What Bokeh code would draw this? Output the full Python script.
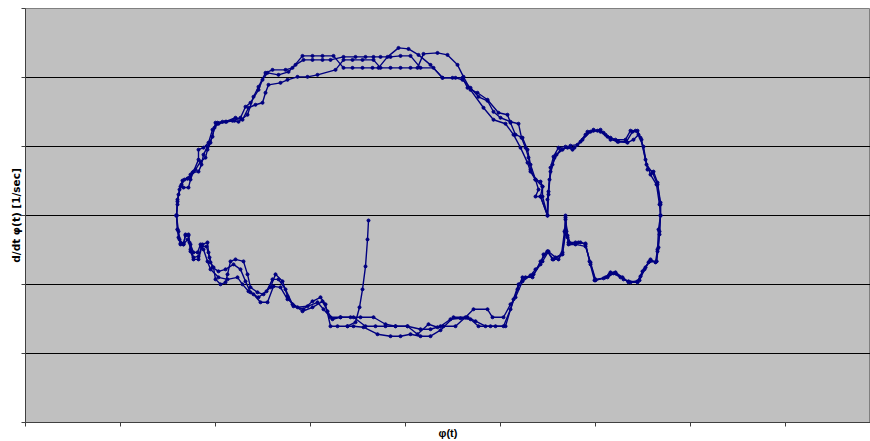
from bokeh.plotting import figure
from bokeh.models import Range1d, FixedTicker, CustomJSTickFormatter
from bokeh.embed import file_html
from bokeh.resources import INLINE

# Phase portrait: phi(t) vs d/dt phi(t), three laps plus the starting segment
tail_phi = [343, 342, 340, 337, 334, 330, 322]
tail_dphi = [-5, -24, -51, -74, -92, -107, -111]

lap1_phi = [151, 152, 154, 157, 162, 164, 167, 173, 176, 178, 182, 187, 190, 197, 207, 213, 222, 228, 233, 240,
            247, 260, 267, 277, 287, 297, 308, 318, 327, 337, 347, 353, 362, 373, 383, 393, 405, 417, 427, 437,
            442, 452, 462, 473, 482, 485, 490, 497, 502, 505, 510, 515, 517, 517, 522,
            523, 525, 528, 533, 540, 547, 555, 562, 568, 575, 580, 585, 592, 602, 608, 613, 618, 622, 628, 632,
            635, 635, 633, 632, 630, 625, 620, 615, 612, 603, 597, 590, 585, 580, 570, 565, 560, 555, 550, 543,
            542, 540, 540, 537, 533, 527, 522, 518, 515, 508, 500, 493, 488, 480, 470, 460, 450, 442, 428, 415,
            405, 395, 385, 375, 365, 352, 338, 328, 322, 312, 305, 300, 295, 287, 278, 268, 262, 257, 250, 245,
            238, 232, 225, 222, 218, 210, 205, 202, 200, 195, 190, 188, 185, 183, 182, 177, 173, 168, 165, 164,
            163, 160, 158, 155, 153, 152, 151]
lap1_dphi = [0, 14, 26, 35, 37, 38, 43, 44, 51, 61, 69, 79, 93, 94, 95, 94, 101, 119, 129, 143,
             146, 146, 148, 160, 160, 160, 160, 148, 148, 148, 148, 148, 159, 168, 167, 161, 151, 138, 138, 138,
             128, 123, 116, 103, 101, 93, 81, 78, 66, 51, 36, 34, 29, 19, 0,
             24, 48, 59, 68, 69, 66, 74, 84, 85, 86, 81, 78, 74, 73, 76, 81, 69, 46, 44, 33,
             13, 0, -14, -34, -47, -44, -52, -61, -67, -67, -62, -57, -57, -62, -65, -49, -29, -27, -27, -27,
             -22, 0, -14, -37, -44, -44, -36, -39, -49, -59, -62, -69, -84, -111, -111, -111, -106, -102, -102, -115,
             -121, -121, -119, -121, -121, -119, -112, -111, -111, -111, -111, -89, -82, -86, -94, -91, -81, -66, -59, -72,
             -79, -77, -72, -59, -46, -44, -46, -59, -67, -69, -64, -52, -47, -37, -27, -29, -44, -44, -36, -27,
             -19, -19, -29, -29, -22, -14, 0]

lap2_phi = [151, 152, 153, 156, 158, 163, 165, 168, 173, 173, 178, 183, 187, 192, 200, 210, 217, 223, 230, 237,
            240, 243, 255, 262, 272, 282, 292, 310, 318, 327, 337, 348, 355, 365, 375, 385, 392, 398, 412, 422,
            432, 438, 445, 458, 468, 480, 488, 495, 502, 505, 510, 513, 510, 515, 522,
            522, 524, 527, 531, 537, 545, 552, 560, 568, 575, 582, 590, 600, 605, 610, 615, 620, 625, 631, 634,
            635, 634, 633, 631, 623, 617, 612, 603, 595, 588, 582, 570, 565, 560, 550, 543, 541, 540, 539, 536,
            530, 523, 517, 510, 505, 497, 490, 485, 478, 467, 462, 448, 440, 430, 418, 412, 403, 392, 382, 370,
            360, 350, 340, 328, 315, 305, 298, 292, 282, 272, 262, 255, 248, 242, 235, 228, 223, 217, 212, 202,
            193, 185, 182, 178, 175, 172, 168, 165, 162, 158, 154, 152, 151]
lap2_dphi = [0, 11, 21, 31, 28, 28, 36, 44, 56, 66, 68, 73, 86, 93, 94, 98, 96, 108, 111, 113,
             123, 131, 133, 136, 139, 139, 141, 146, 156, 156, 156, 156, 148, 148, 148, 148, 148, 162, 163, 161,
             151, 139, 126, 108, 96, 92, 81, 68, 53, 44, 36, 26, 19, 19, 0,
             16, 36, 51, 61, 66, 70, 71, 81, 86, 84, 79, 76, 76, 85, 85, 78, 56, 41, 31, 11,
             0, -16, -32, -46, -47, -56, -66, -66, -62, -58, -62, -64, -47, -31, -29, -29, -16, -2, -16, -39,
             -42, -36, -46, -54, -60, -66, -82, -89, -102, -102, -94, -94, -102, -111, -111, -112, -109, -119, -111, -111,
             -111, -111, -111, -102, -102, -102, -94, -87, -91, -92, -84, -72, -71, -87, -87, -79, -76, -69, -62, -64,
             -62, -54, -46, -34, -29, -37, -37, -29, -24, -29, -24, -14, 0]

lap3_phi = [151, 152, 155, 159, 162, 165, 170, 175, 180, 182, 185, 189, 193, 201, 209, 215, 220, 225, 233, 237,
            242, 253, 263, 270, 278, 287, 297, 305, 318, 330, 340, 348, 355, 365, 375, 385, 395, 408, 417, 430,
            437, 445, 453, 462, 468, 475, 485, 493, 496, 500, 503, 505, 510, 517, 515, 522,
            523, 525, 529, 535, 542, 549, 557, 565, 572, 578, 585, 593, 601, 607, 612, 616, 621, 627, 632,
            635, 635, 634, 632, 631, 624, 619, 614, 605, 598, 590, 584, 578, 569, 564, 560, 553, 545, 542,
            540, 540, 537, 528, 522, 515, 507, 497, 492, 485, 478, 465, 453, 445, 435, 425, 415, 405, 395, 382,
            370, 360, 348, 335, 325, 315, 307, 302, 297, 287, 277, 267, 260, 253, 247, 241, 233, 225, 220, 215,
            208, 200, 193, 187, 184, 181, 176, 173, 168, 165, 163, 160, 158, 155, 153, 151]
lap3_dphi = [0, 16, 29, 36, 37, 41, 46, 54, 58, 66, 73, 88, 92, 94, 95, 98, 109, 113, 126, 136,
             143, 141, 144, 151, 156, 156, 156, 156, 159, 159, 159, 159, 159, 159, 160, 160, 148, 148, 138, 138,
             136, 128, 119, 115, 104, 98, 94, 92, 78, 68, 58, 46, 36, 29, 19, 0,
             21, 44, 58, 66, 68, 68, 76, 84, 85, 83, 76, 74, 74, 84, 85, 76, 51, 43, 31,
             11, 0, -19, -36, -46, -46, -54, -65, -67, -64, -58, -59, -63, -65, -46, -28, -27, -28, -20,
             -4, -18, -39, -44, -36, -46, -62, -62, -74, -94, -111, -111, -111, -104, -103, -104, -111, -114, -114, -111,
             -111, -109, -102, -102, -102, -102, -104, -96, -86, -92, -96, -89, -74, -64, -64, -76, -82, -77, -66, -54,
             -49, -54, -56, -52, -42, -31, -31, -41, -42, -34, -20, -20, -28, -28, -16, 0]

phi_ticks = [0, 95, 190, 285, 380, 475, 570, 665, 760, 855]
dphi_ticks = [-207.5, -138.33, -69.17, 0, 69.17, 138.33, 207.5]

NAVY = "#000080"

p = figure(width=870, height=441, x_range=Range1d(0, 845), y_range=Range1d(-207.5, 207.5),
           output_backend="svg", toolbar_location=None,
           min_border_left=25, min_border_right=0, min_border_top=8, min_border_bottom=18)

p.background_fill_color = "#C0C0C0"
p.border_fill_color = "white"
p.outline_line_color = "#808080"
p.outline_line_width = 1

for xs, ys in [(lap1_phi, lap1_dphi), (lap2_phi, lap2_dphi), (lap3_phi, lap3_dphi), (tail_phi, tail_dphi)]:
    p.line(xs, ys, line_color=NAVY, line_width=1.4)
    p.scatter(xs, ys, size=3, marker="circle", fill_color=NAVY, line_color=NAVY)

p.xgrid.visible = False
p.ygrid.grid_line_color = "black"
p.ygrid.grid_line_width = 1

p.xaxis.ticker = FixedTicker(ticks=phi_ticks)
p.yaxis.ticker = FixedTicker(ticks=dphi_ticks)
for ax in (p.xaxis, p.yaxis):
    ax.formatter = CustomJSTickFormatter(code="return ''")
    ax.major_label_standoff = 0
    ax.major_tick_out = 4
    ax.major_tick_in = 0
    ax.minor_tick_line_color = None
    ax.axis_line_color = "#404040"
    ax.major_tick_line_color = "#404040"
    ax.axis_label_text_font_style = "bold"
    ax.axis_label_text_color = "black"

p.xaxis.axis_label = "φ(t)"
p.xaxis.axis_label_text_font = "Liberation Sans"
p.xaxis.axis_label_text_font_size = "11px"
p.xaxis.axis_label_standoff = 0
p.yaxis.axis_label = "d/dt φ(t) [1/sec]"
p.yaxis.axis_label_text_font = "DejaVu Sans"
p.yaxis.axis_label_text_font_size = "10.5px"
p.yaxis.axis_label_standoff = 0

open("out.html", "w").write(file_html(p, INLINE))
